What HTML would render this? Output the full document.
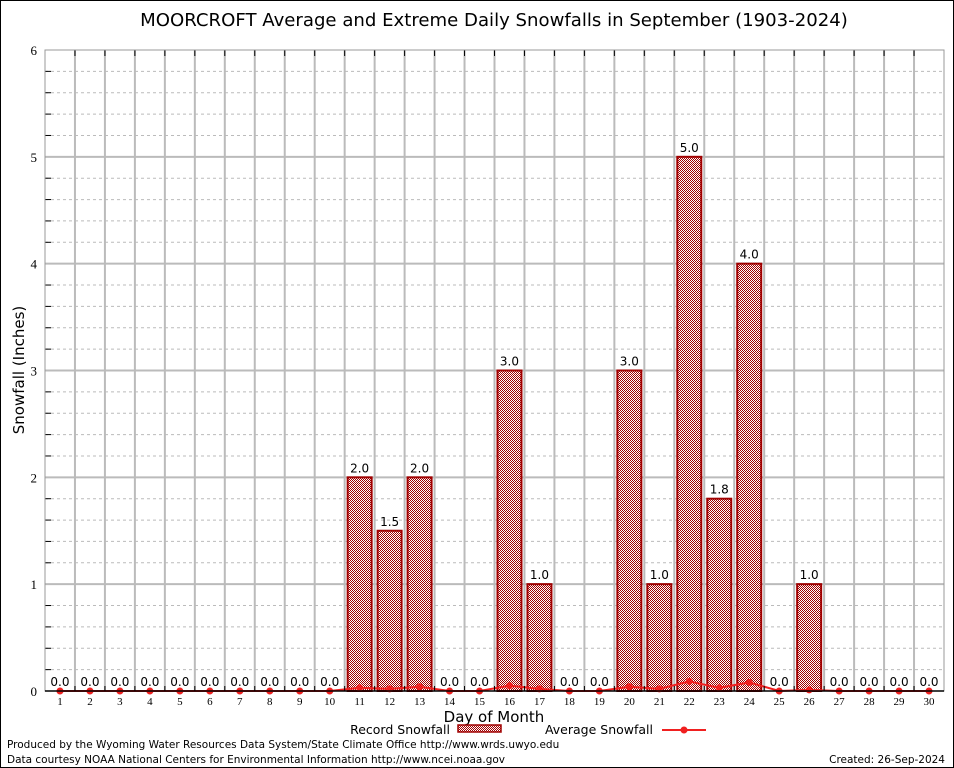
<!DOCTYPE html>
<html><head><meta charset="utf-8"><style>
body{margin:0;background:#fff}
svg{display:block;font-family:"DejaVu Sans","Liberation Sans",sans-serif}
</style></head><body>
<svg id="c" width="954" height="768" viewBox="0 0 954 768">
<defs>
<pattern id="chk" width="2" height="2" patternUnits="userSpaceOnUse">
<rect width="2" height="2" fill="#fff"/>
<rect width="1" height="1" fill="#a00000"/>
<rect x="1" y="1" width="1" height="1" fill="#a00000"/>
</pattern>
</defs>
<rect x="0.5" y="0.5" width="953" height="767" fill="#fff" stroke="#000"/>
<text x="494" y="26" font-size="18.1" text-anchor="middle">MOORCROFT Average and Extreme Daily Snowfalls in September (1903-2024)</text>
<g id="grid"></g>
<g id="bars"></g>
<g id="avg"></g>
<g id="axes"></g>
<text x="24" y="370" font-size="15" text-anchor="middle" transform="rotate(-90 24 370)">Snowfall (Inches)</text>
<text x="494" y="722" font-size="15" text-anchor="middle">Day of Month</text>
<g>
<text x="450" y="734" font-size="12.5" text-anchor="end">Record Snowfall</text>
<rect x="458" y="725" width="43" height="7" fill="url(#chk)" stroke="#a00000" stroke-width="1.5"/>
<text x="653" y="734" font-size="12.5" text-anchor="end">Average Snowfall</text>
<line x1="662" y1="730" x2="706" y2="730" stroke="#f02020" stroke-width="2"/>
<circle cx="684" cy="730" r="3.5" fill="#f02020"/>
</g>
<text x="7" y="748" font-size="10.5">Produced by the Wyoming Water Resources Data System/State Climate Office http://www.wrds.uwyo.edu</text>
<text x="7" y="763" font-size="10.5">Data courtesy NOAA National Centers for Environmental Information http://www.ncei.noaa.gov</text>
<text x="945" y="763" font-size="10.5" text-anchor="end">Created: 26-Sep-2024</text>
</svg>
<script>
const days=[1,2,3,4,5,6,7,8,9,10,11,12,13,14,15,16,17,18,19,20,21,22,23,24,25,26,27,28,29,30];
const recordSnow=[0,0,0,0,0,0,0,0,0,0,2.0,1.5,2.0,0,0,3.0,1.0,0,0,3.0,1.0,5.0,1.8,4.0,0,1.0,0,0,0,0];
const avgSnow=[0,0,0,0,0,0,0,0,0,0,0.03,0.02,0.04,0,0,0.05,0.02,0,0,0.04,0.02,0.09,0.03,0.08,0,0.01,0,0,0,0];
const yTicks=[0,1,2,3,4,5,6];
const NS="http://www.w3.org/2000/svg";
const L=45,R=944,T=50,B=691,yMax=6;
const xs=d=>L+(d-0.5)*(R-L)/30;
const ys=v=>B-v/yMax*(B-T);
function mk(tag,at,parent){const e=document.createElementNS(NS,tag);for(const k in at)e.setAttribute(k,at[k]);document.getElementById(parent).appendChild(e);return e;}
for(let v=0.2;v<yMax-0.01;v+=0.2){
  if(Math.abs(v-Math.round(v))<0.01)continue;
  const l=mk('line',{x1:L,x2:R,y1:ys(v),y2:ys(v),stroke:'#bbb','stroke-dasharray':'3,3'},'grid');
  
  
  const t1=mk('line',{x1:L,x2:L+6,y1:ys(v),y2:ys(v),stroke:'#000'},'axes');
  
  
}
yTicks.forEach(v=>{
  if(v>0&&v<yMax){const l=mk('line',{x1:L,x2:R,y1:ys(v),y2:ys(v),stroke:'#bbb','stroke-width':2},'grid');
  
  }
  const t=mk('text',{x:L-8,y:ys(v)+5,'font-size':13,'text-anchor':'end','font-family':'Liberation Serif, serif'},'axes');
  t.textContent=v;
  
  
});
for(let i=1;i<30;i++){
  const x=L+i*(R-L)/30;
  const l=mk('line',{x1:x,x2:x,y1:T,y2:B,stroke:'#bbb','stroke-width':2},'grid');
  
  
  const tk=mk('line',{x1:x,x2:x,y1:T,y2:T+6,stroke:'#000'},'axes');
  
  
  const tb=mk('line',{x1:x,x2:x,y1:B,y2:B-5,stroke:'#000'},'axes');
  
  
}
const frame=mk('rect',{x:L,y:T,width:R-L,height:B-T,fill:'none',stroke:'#999'},'axes');


const xa=mk('line',{x1:L,x2:R,y1:B,y2:B,stroke:'#000','stroke-width':1.5},'axes');


days.forEach((d,i)=>{
  const v=recordSnow[i],x=xs(d);
  if(v>0){
    const b=mk('rect',{x:x-12,y:ys(v),width:24,height:B-ys(v),fill:'url(#chk)',stroke:'#a00000','stroke-width':2},'bars');
    
    
  }
  const t=mk('text',{x:x,y:ys(v)-5,'font-size':12,'text-anchor':'middle'},'bars');
  t.textContent=v.toFixed(1);
  
  
  const xl=mk('text',{x:x,y:B+14,'font-size':11,'text-anchor':'middle','font-family':'Liberation Serif, serif'},'axes');
  xl.textContent=d;
  
  
});
const pts=days.map((d,i)=>xs(d)+','+ys(avgSnow[i])).join(' ');
const pl=mk('polyline',{points:pts,fill:'none',stroke:'#f02020','stroke-width':2},'avg');


days.forEach((d,i)=>{
  const m=mk('circle',{cx:xs(d),cy:ys(avgSnow[i]),r:3.5,fill:'#f02020'},'avg');
  
  
});
</script>
</body></html>
